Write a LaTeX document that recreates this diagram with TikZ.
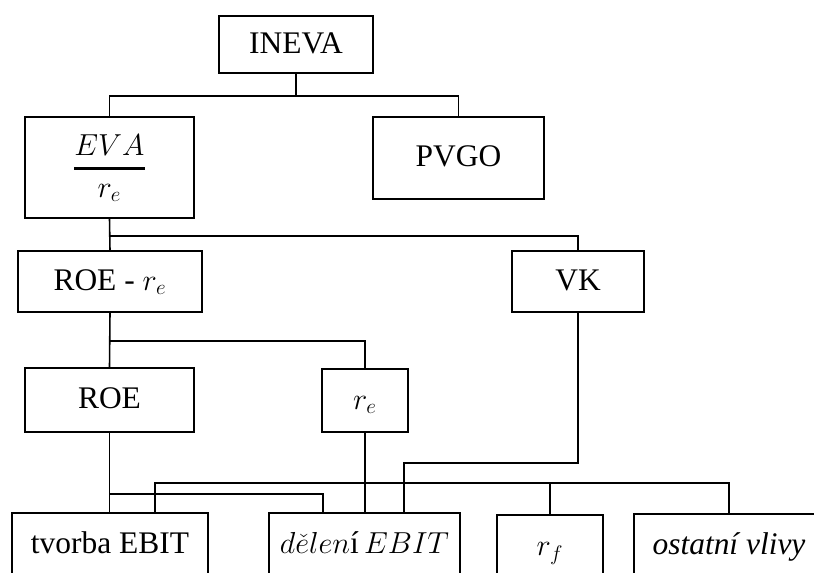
\documentclass[tikz,border=0pt]{standalone}
\usepackage{amsmath}
\usepackage{fontspec}
\setmainfont{Liberation Serif}
\usetikzlibrary{calc}

\begin{document}
\begin{tikzpicture}[x=0.02cm, y=-0.02cm, line width=0.9pt,
  box/.style={draw, inner sep=2pt, text height=1em, text depth=0pt,
    font=\fontsize{17.9}{21}\selectfont}]
  \useasboundingbox (0,0) rectangle (814,572);
  \clip (0,0) rectangle (814,572);
  % Top levels
  \node[box, minimum width=3.08cm, minimum height=1.14cm] (ineva) at (296,44.5) {INEVA};
  \node[box, minimum width=3.38cm, minimum height=2.02cm] (eva) at (109.5,167.5) {$\genfrac{}{}{1.6pt}{0}{EVA}{r_e}$};
  \node[box, minimum width=3.42cm, minimum height=1.64cm] (pvgo) at (458.5,158) {PVGO};
  % Second level
  \node[box, minimum width=3.68cm, minimum height=1.22cm] (roere) at (110,281.5) {ROE - $r_e$};
  \node[box, minimum width=2.64cm, minimum height=1.22cm] (vk) at (578,281.5) {VK};
  % Third level
  \node[box, minimum width=3.38cm, minimum height=1.28cm] (roe) at (109.5,400) {ROE};
  \node[box, minimum width=1.72cm, minimum height=1.26cm] (re) at (365,400.5) {$r_e$};
  % Bottom row
  \node[box, minimum width=3.92cm, minimum height=1.28cm] (tvorba) at (110,545) {tvorba EBIT};
  \node[box, minimum width=3.82cm, minimum height=1.28cm] (deleni) at (364.5,545) {$d\check{e}len$í\,$EBIT$};
  \node[box, minimum width=2.12cm, minimum height=1.28cm] (rf) at (550,547) {$r_f$};
  \node[box, minimum width=3.80cm, minimum height=1.28cm] (ostatni) at (729,546) {\textit{ostatní vlivy}};
  % Connectors
  \draw (ineva.south) -- ++(0,22) coordinate (inevabus);
  \draw (eva.north) |- (inevabus) -| (pvgo.north);
  \draw (eva.south) -- (roere.north);
  \draw (eva.south) ++(0,17) -| (vk.north);
  \draw (roere.south) -- (roe.north);
  \draw (roere.south) ++(0,28) -| (re.north);
  \draw (roe.south) -- (roe.south |- tvorba.north);
  \draw (roe.south) ++(0,61) -| ([xshift=-0.83cm]deleni.north);
  \draw (re.south) -- (re.south |- deleni.north);
  \draw (vk.south) -- ++(0,150) -| ([xshift=0.79cm]deleni.north);
  \draw ([xshift=0.9cm]tvorba.north) -- ++(0,-29) -| (ostatni.north);
  \draw (rf.north) -- ++(0,-31);
\end{tikzpicture}
\end{document}
